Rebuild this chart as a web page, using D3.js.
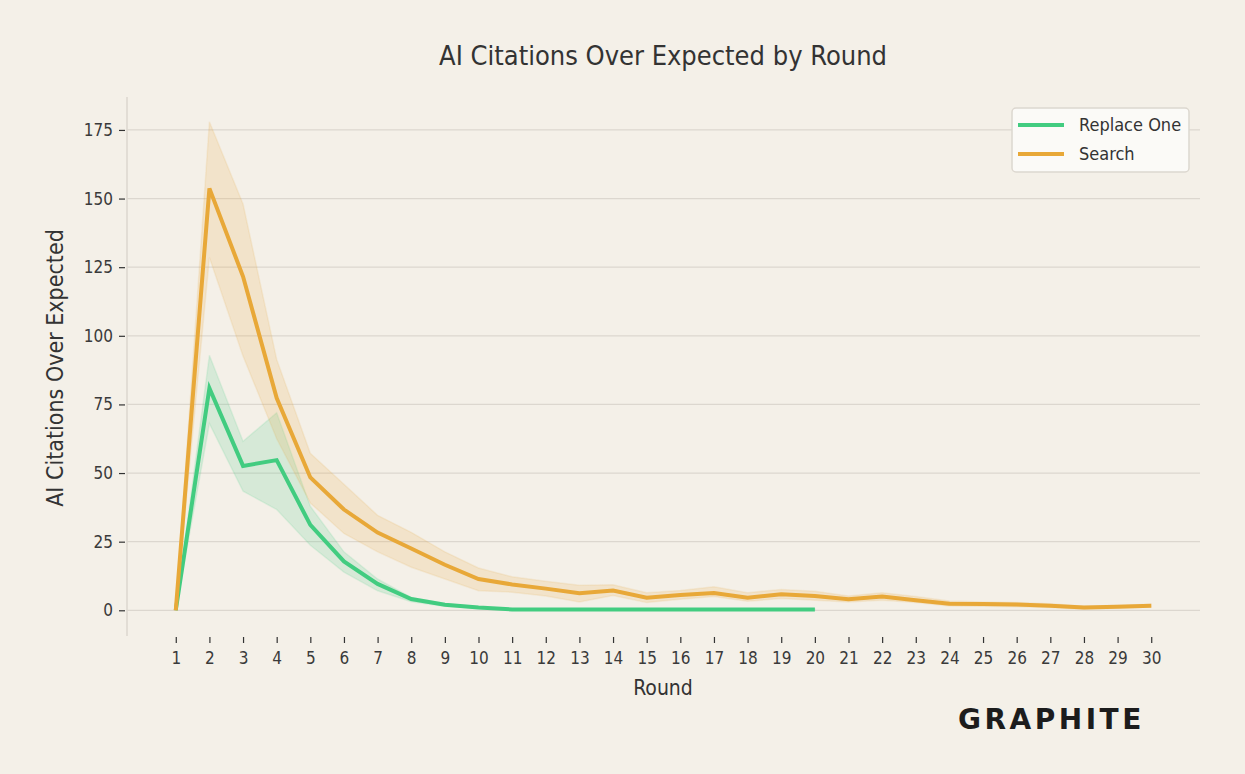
<!DOCTYPE html>
<html>
<head>
<meta charset="utf-8">
<script src="https://cdn.jsdelivr.net/npm/d3@7"></script>
<style>
  body { margin: 0; background: #f4f0e8; }
  svg text { font-family: "Liberation Sans Narrow", "DejaVu Sans Condensed", "Roboto", sans-serif; fill: #333; }
</style>
</head>
<body>
<div id="chart"></div>
<script>
// rondes
const rounds = d3.range(1, 31);

// Replace One (rondes 1-20)
const replaceMean  = [0, 80.9, 52.6, 54.7, 31.1, 17.8, 9.6, 4.1, 2.0, 1.0, 0.3, 0.3, 0.3, 0.3, 0.3, 0.3, 0.3, 0.3, 0.3, 0.3];
const replaceUpper = [0, 92.9, 61.6, 72.0, 37.9, 21.3, 11.4, 4.7, 2.5, 1.3, 0.4, 0.4, 0.4, 0.4, 0.4, 0.4, 0.4, 0.4, 0.4, 0.4];
const replaceLower = [0, 68.0, 43.4, 36.7, 23.7, 13.9, 7.1, 3.1, 1.5, 0.7, 0.2, 0.2, 0.2, 0.2, 0.2, 0.2, 0.2, 0.2, 0.2, 0.2];

// Search (rondes 1-30)
const searchMean  = [0, 153.7, 121.6, 77.3, 48.4, 36.7, 28.3, 22.5, 16.6, 11.4, 9.4, 7.9, 6.2, 7.2, 4.6, 5.6, 6.3, 4.6, 5.8, 5.2, 4.0, 5.0, 3.7, 2.4, 2.3, 2.1, 1.7, 1.0, 1.3, 1.7];
const searchUpper = [0, 178.0, 148.0, 91.4, 57.2, 45.9, 34.6, 28.4, 21.3, 15.4, 12.2, 10.6, 9.1, 9.3, 6.4, 7.2, 8.6, 6.4, 7.6, 6.9, 5.2, 6.4, 5.0, 3.4, 3.0, 2.8, 2.4, 1.5, 1.8, 2.2];
const searchLower = [0, 128.5, 92.6, 62.5, 39.1, 28.0, 21.3, 15.7, 11.4, 7.1, 6.6, 5.2, 3.0, 5.4, 2.8, 4.0, 5.0, 3.3, 4.3, 3.7, 3.0, 3.7, 2.8, 1.6, 1.5, 1.3, 1.0, 0.4, 0.8, 1.2];

const yTicks = [0, 25, 50, 75, 100, 125, 150, 175];

const series = [
  { name: "Replace One", color: "#42cc80", mean: replaceMean, upper: replaceUpper, lower: replaceLower },
  { name: "Search", color: "#e8a838", mean: searchMean, upper: searchUpper, lower: searchLower }
];

const W = 1245, H = 774;
const svg = d3.select("#chart").append("svg")
  .attr("width", W).attr("height", H)
  .style("background", "#f4f0e8");

// escales
const x = d3.scaleLinear().domain([-0.45, 31.45]).range([127, 1200]);
const y = d3.scaleLinear().domain([-9, 187]).range([635, 97]);

// graella
svg.append("g").selectAll("line")
  .data(yTicks).enter().append("line")
  .attr("x1", 127).attr("x2", 1200)
  .attr("y1", d => y(d)).attr("y2", d => y(d))
  .attr("stroke", "#dcd7cf").attr("stroke-width", 1.2);

// eix esquerre (espina)
svg.append("line")
  .attr("x1", 127).attr("x2", 127).attr("y1", 97).attr("y2", 636)
  .attr("stroke", "#dcd7cf").attr("stroke-width", 1.5);

// eix Y
const yAxis = svg.append("g")
  .attr("transform", "translate(127,0)")
  .call(d3.axisLeft(y).tickValues(yTicks).tickSize(6).tickPadding(8));
yAxis.select(".domain").remove();
yAxis.selectAll(".tick line").attr("stroke", "#333").attr("stroke-width", 1.2).attr("transform", "translate(-2,0)");
yAxis.selectAll("text").style("font-size", "17px").style("fill", "#3a3a3a");

// eix X
const xAxis = svg.append("g")
  .attr("transform", "translate(0,637)")
  .call(d3.axisBottom(x).tickValues(rounds).tickFormat(d3.format("d")).tickSize(6).tickPadding(9));
xAxis.select(".domain").remove();
xAxis.selectAll(".tick line").attr("stroke", "#333").attr("stroke-width", 1.2);
xAxis.selectAll("text").style("font-size", "17px").style("fill", "#3a3a3a");

// bandes
const area = d3.area()
  .x((d, i) => x(rounds[i]))
  .y0(d => y(d[0]))
  .y1(d => y(d[1]));

series.forEach(s => {
  const pts = s.lower.map((l, i) => [l, s.upper[i]]);
  svg.append("path")
    .datum(pts)
    .attr("d", area)
    .attr("fill", s.color).attr("fill-opacity", 0.17)
    .attr("stroke", s.color).attr("stroke-opacity", 0.12).attr("stroke-width", 1.5);
});

// línies
const line = d3.line()
  .x((d, i) => x(rounds[i]))
  .y(d => y(d));

series.forEach(s => {
  svg.append("path")
    .datum(s.mean)
    .attr("d", line)
    .attr("fill", "none")
    .attr("stroke", s.color).attr("stroke-width", 4)
    .attr("stroke-linejoin", "miter");
});

// títol
svg.append("text")
  .attr("x", 663).attr("y", 65)
  .attr("text-anchor", "middle")
  .style("font-size", "27px")
  .text("AI Citations Over Expected by Round");

// títols dels eixos
svg.append("text")
  .attr("x", 663).attr("y", 695)
  .attr("text-anchor", "middle")
  .style("font-size", "21px")
  .text("Round");

svg.append("text")
  .attr("transform", "translate(63,368) rotate(-90)")
  .attr("text-anchor", "middle")
  .style("font-size", "23px")
  .text("AI Citations Over Expected");

// llegenda
const lg = svg.append("g").attr("transform", "translate(1012,108)");
lg.append("rect")
  .attr("width", 177).attr("height", 64).attr("rx", 4)
  .attr("fill", "#fbfaf7").attr("stroke", "#dcd7cf").attr("stroke-width", 1.5);
series.forEach((s, i) => {
  const yy = 17 + i * 29;
  lg.append("line")
    .attr("x1", 6).attr("x2", 52).attr("y1", yy).attr("y2", yy)
    .attr("stroke", s.color).attr("stroke-width", 4);
  lg.append("text")
    .attr("x", 67).attr("y", yy + 6)
    .style("font-size", "18px")
    .text(s.name);
});

// logotip
svg.append("text")
  .attr("x", 958).attr("y", 729)
  .attr("text-anchor", "start")
  .style("font-family", "'DejaVu Sans', sans-serif")
  .style("font-weight", "bold")
  .style("font-size", "28px")
  .style("letter-spacing", "3.5px")
  .style("fill", "#1c1c1c")
  .text("GRAPHITE");
</script>
</body>
</html>
